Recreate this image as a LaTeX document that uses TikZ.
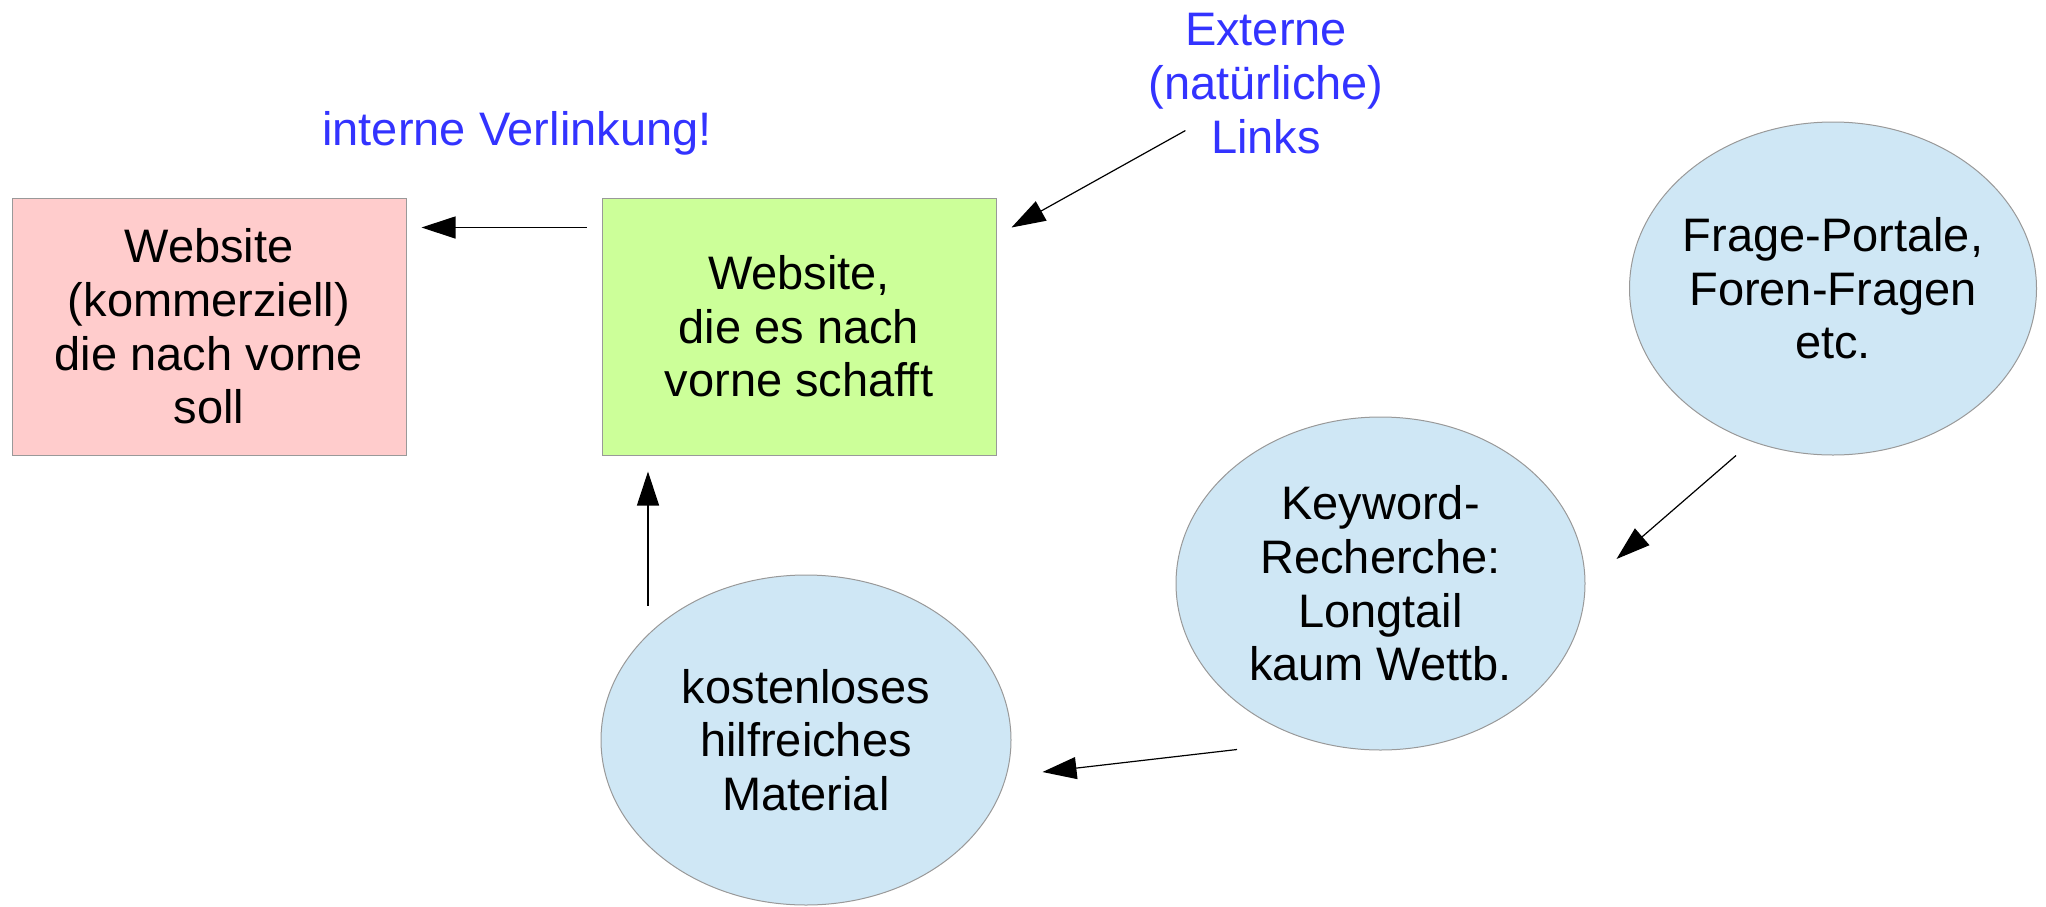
\documentclass[tikz,border=0pt]{standalone}
\usepackage{fontspec}
\setmainfont{Liberation Sans}
\usetikzlibrary{shapes.geometric,arrows.meta,calc}
\definecolor{rosa}{HTML}{FFCCCC}
\definecolor{gruen}{HTML}{CCFF99}
\definecolor{hellblau}{HTML}{CFE7F5}
\definecolor{linkblau}{HTML}{3333FF}
\definecolor{rahmen}{HTML}{999999}
\tikzset{kasten/.style={rectangle, draw=rahmen, line width=0.5pt, inner sep=0pt,
minimum width=197pt, minimum height=128.5pt, align=center},
blase/.style={ellipse, draw=rahmen, fill=hellblau, line width=0.5pt, inner sep=-10pt, align=center},
pfeil/.style={-{Triangle[length=17pt,width=11pt]}, line width=0.6pt},
hinweis/.style={text=linkblau, align=center}}

\begin{document}
\begin{tikzpicture}[x=0.5pt, y=-0.5pt, font=\fontsize{23.5}{26.8}\selectfont]
        \useasboundingbox (0,0) rectangle (2046,906);

        \node[kasten, fill=rosa] (kommerz) at (209, 326.5) {Website\\(kommerziell)\\die nach vorne\\soll};
        \node[kasten, fill=gruen] (schafft) at (799, 326.5) {Website,\\die es nach\\vorne schafft};

        \node[blase, minimum width=203.5pt, minimum height=166.5pt] (frage) at (1833, 288.5) {Frage-Portale,\\Foren-Fragen\\etc.};
        \node[blase, minimum width=204.5pt, minimum height=166.5pt] (keyword) at (1380.5, 583.5) {Keyword-\\Recherche:\\Longtail\\kaum Wettb.};
        \node[blase, minimum width=205pt, minimum height=165pt] (material) at (806, 740) {kostenloses\\hilfreiches\\Material};

        \node[hinweis, anchor=base] (intern) at (517, 145) {interne Verlinkung!};
        \node[hinweis] (extern) at (1266, 83.5) {Externe\\(natürliche)\\Links};

        \draw[pfeil] ($(schafft.north west)+(-15,30)$) -- ($(kommerz.north east)+(15,30)$);
        \draw[pfeil] ($(extern.south west)+(44,-30)$) -- ($(schafft.north east)+(15,30)$);
        \draw[pfeil] ($(frage.south)+(-97,0)$) -- ($(keyword.east)+(31,-24.5)$);
        \draw[pfeil] ($(keyword.south)+(-143.5,-1)$) -- ($(material.east)+(31,32)$);
        \draw[pfeil] ($(material.north)+(-158,31)$) -- ($(schafft.south)+(-151,16)$);
    \end{tikzpicture}
\end{document}
